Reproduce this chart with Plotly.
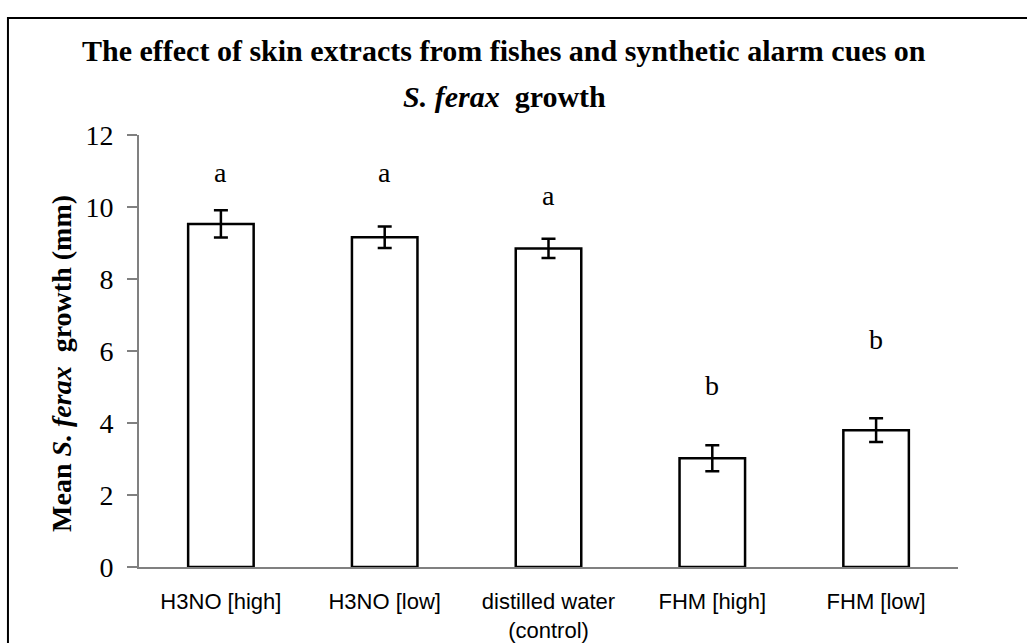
import plotly.graph_objects as go

SERIF = "Liberation Serif"
SANS = "Liberation Sans"
AXIS_GREY = "#808080"

# data
treatments = ["H3NO [high]", "H3NO [low]", "distilled water<br>(control)", "FHM [high]", "FHM [low]"]
mean_growth = [9.53, 9.16, 8.85, 3.02, 3.80]
std_err = [0.38, 0.30, 0.27, 0.36, 0.33]
groups = ["a", "a", "a", "b", "b"]
group_label_y = [10.97, 10.97, 10.33, 5.03, 6.33]
y_ticks = [0, 2, 4, 6, 8, 10, 12]
title_lines = ["<b>The effect of skin extracts from fishes and synthetic alarm cues on</b>",
               "<b><i>S. ferax</i>  growth</b>"]

fig = go.Figure()
fig.add_trace(go.Bar(
    x=treatments, y=mean_growth,
    marker=dict(color="white", line=dict(color="black", width=2.5)),
    error_y=dict(type="data", array=std_err, visible=True,
                 color="black", thickness=2.5, width=7),
    showlegend=False,
))

for t, g, gy in zip(treatments, groups, group_label_y):
    fig.add_annotation(x=t, y=gy, xref="x", yref="y", text=g, showarrow=False,
                       font=dict(family=SERIF, size=28, color="black"))

# two-line title, placed as annotations so line spacing can be set
for line, ty in zip(title_lines, [1.195, 1.09]):
    fig.add_annotation(x=0.4457, y=ty, xref="paper", yref="paper", text=line,
                       showarrow=False, xanchor="center", yanchor="middle",
                       font=dict(family=SERIF, size=30, color="black"))

# y axis title
fig.add_annotation(x=-0.094, y=0.47, xref="paper", yref="paper",
                   text="<b>Mean <i>S. ferax</i>  growth (mm)</b>",
                   textangle=-90, showarrow=False, xanchor="center", yanchor="middle",
                   font=dict(family=SERIF, size=28, color="black"))

# outer frame, only left and top edges fall inside the picture
fig.add_shape(type="rect", xref="paper", yref="paper",
              x0=-0.16, x1=1.2, y0=-0.3, y1=1.2708,
              line=dict(color="black", width=2), fillcolor="rgba(0,0,0,0)", layer="below")

fig.update_layout(
    width=1027, height=643,
    margin=dict(l=139, r=69, t=135, b=76),
    paper_bgcolor="white", plot_bgcolor="white",
    bargap=0.6,
    xaxis=dict(showline=True, linecolor=AXIS_GREY, linewidth=2, ticks="",
               showgrid=False, ticklabelstandoff=14, automargin=False,
               tickfont=dict(family=SANS, size=22, color="black")),
    yaxis=dict(range=[0, 12], tickvals=y_ticks, showline=True, linecolor=AXIS_GREY,
               linewidth=2, ticks="outside", ticklen=10, tickcolor=AXIS_GREY, tickwidth=2,
               showgrid=False, zeroline=False, ticklabelstandoff=8, automargin=False,
               tickfont=dict(family=SERIF, size=28, color="black")),
)

fig.write_html("out.html", config={"displayModeBar": False},
               post_script="document.body.style.margin='0';document.body.style.overflow='hidden';")
